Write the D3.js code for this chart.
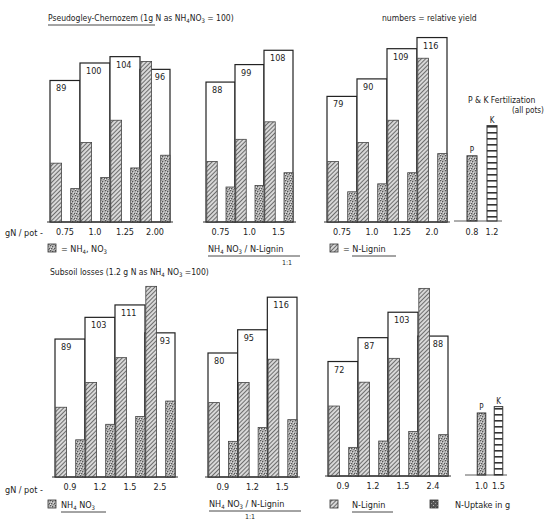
<!DOCTYPE html>
<html lang="en">
<head>
<meta charset="utf-8">
<title>Relative yield and N uptake</title>
<script src="https://d3js.org/d3.v7.min.js"></script>
<style>
    body { margin: 0; background: #fff; }
    svg text { font-family: "Liberation Sans Narrow", "DejaVu Sans Condensed", sans-serif; fill: #222; }
</style>
</head>
<body>
<div id="chart"></div>
<script>
    // ---- data ----
    // top row: Pseudogley-Chernozem
    var rates1 = ["0.75", "1.0", "1.25", "2.00"];
    var yield1 = [89, 100, 104, 96];
    var hatch1 = [37, 50, 64, 101];
    var stip1 = [21, 28, 34, 42];

    var rates2 = ["0.75", "1.0", "1.5"];
    var yield2 = [88, 99, 108];
    var hatch2 = [38, 52, 63];
    var stip2 = [22, 23, 31];

    var rates3 = ["0.75", "1.0", "1.25", "2.0"];
    var yield3 = [79, 90, 109, 116];
    var hatch3 = [38, 50, 64, 103];
    var stip3 = [19, 24, 31, 43];

    // bottom row: subsoil losses
    var rates4 = ["0.9", "1.2", "1.5", "2.5"];
    var yield4 = [89, 103, 111, 93];
    var hatch4 = [45, 61, 77, 123];
    var stip4 = [24, 34, 39, 49];

    var rates5 = ["0.9", "1.2", "1.5"];
    var yield5 = [80, 95, 116];
    var hatch5 = [48, 61, 76];
    var stip5 = [23, 32, 37];

    var rates6 = ["0.9", "1.2", "1.5", "2.4"];
    var yield6 = [72, 87, 103, 88];
    var hatch6 = [44, 59, 74, 118];
    var stip6 = [18, 22, 28, 26];

    // P & K fertilization (all pots)
    var pkNames = ["P", "K"];
    var pkRatesTop = ["0.8", "1.2"];
    var pkTop = [41, 60];
    var pkRatesBottom = ["1.0", "1.5"];
    var pkBottom = [39, 43];

    var svg = d3.select("#chart").append("svg")
        .attr("width", 559)
        .attr("height", 520);

    // patterns that imitate the print
    var defs = svg.append("defs");
    var ph = defs.append("pattern").attr("id", "hatch")
        .attr("patternUnits", "userSpaceOnUse").attr("width", 3).attr("height", 3)
        .attr("patternTransform", "rotate(45)");
    ph.append("rect").attr("width", 3).attr("height", 3).attr("fill", "#d8d8d8");
    ph.append("line").attr("x1", 0).attr("y1", 0).attr("x2", 0).attr("y2", 3)
        .attr("stroke", "#333").attr("stroke-width", 1.3);

    var ps = defs.append("pattern").attr("id", "stip")
        .attr("patternUnits", "userSpaceOnUse").attr("width", 5).attr("height", 5);
    ps.append("rect").attr("width", 5).attr("height", 5).attr("fill", "#b4b4b4");
    [[0, 0], [2, 1], [4, 3], [1, 3], [3, 4.5]].forEach(function (p) {
        ps.append("rect").attr("x", p[0]).attr("y", p[1]).attr("width", 1.2).attr("height", 1.2).attr("fill", "#555");
    });
    [[1, 1.5], [3, 2.5], [0, 4]].forEach(function (p) {
        ps.append("rect").attr("x", p[0]).attr("y", p[1]).attr("width", 1).attr("height", 1).attr("fill", "#eee");
    });

    var pl = defs.append("pattern").attr("id", "ladder")
        .attr("patternUnits", "userSpaceOnUse").attr("width", 10).attr("height", 6);
    pl.append("rect").attr("width", 10).attr("height", 6).attr("fill", "#fff");
    pl.append("rect").attr("x", 0).attr("y", 0).attr("width", 10).attr("height", 1.6).attr("fill", "#333");

    var pd = defs.append("pattern").attr("id", "dark")
        .attr("patternUnits", "userSpaceOnUse").attr("width", 4).attr("height", 4);
    pd.append("rect").attr("width", 4).attr("height", 4).attr("fill", "#555");
    pd.append("rect").attr("x", 1).attr("y", 1).attr("width", 1).attr("height", 1).attr("fill", "#bbb");
    pd.append("rect").attr("x", 3).attr("y", 3).attr("width", 1).attr("height", 1).attr("fill", "#999");

    function panel(rates, yields, hatch, stip, x0, x1, base, px100) {
        var x = d3.scaleBand().domain(rates).range([x0, x1]).padding(0);
        var y = d3.scaleLinear().domain([0, 100]).range([base, base - px100]);
        var bw = x.bandwidth();
        var g = svg.append("g");

        g.selectAll(".yield").data(rates).enter().append("rect")
            .attr("x", function (d) { return x(d); })
            .attr("y", function (d, i) { return y(yields[i]); })
            .attr("width", bw)
            .attr("height", function (d, i) { return base - y(yields[i]); })
            .attr("fill", "#fff").attr("stroke", "#222").attr("stroke-width", 1.2);

        g.selectAll(".hatch").data(rates).enter().append("rect")
            .attr("x", function (d) { return x(d) + 0.8; })
            .attr("y", function (d, i) { return y(hatch[i]); })
            .attr("width", bw * 0.36)
            .attr("height", function (d, i) { return base - y(hatch[i]); })
            .attr("fill", "url(#hatch)").attr("stroke", "#444").attr("stroke-width", 0.8);

        g.selectAll(".stip").data(rates).enter().append("rect")
            .attr("x", function (d) { return x(d) + bw * 0.69; })
            .attr("y", function (d, i) { return y(stip[i]); })
            .attr("width", bw * 0.31)
            .attr("height", function (d, i) { return base - y(stip[i]); })
            .attr("fill", "url(#stip)").attr("stroke", "#444").attr("stroke-width", 0.8);

        g.selectAll(".lab").data(rates).enter().append("text")
            .attr("x", function (d, i) {
                return hatch[i] > yields[i] - 12 ? x(d) + bw * 0.36 + 4 : x(d) + 6;
            })
            .attr("y", function (d, i) { return y(yields[i]) + 11; })
            .attr("font-size", 9)
            .text(function (d, i) { return yields[i]; });

        g.append("line")
            .attr("x1", x0 - 3).attr("x2", x1 + 3).attr("y1", base).attr("y2", base)
            .attr("stroke", "#333").attr("stroke-width", 1);

        var ax = g.append("g").attr("transform", "translate(0," + (base + 4) + ")")
            .call(d3.axisBottom(x).tickSize(0));
        ax.select(".domain").remove();
        ax.selectAll("text").attr("font-size", 9).attr("fill", "#222")
            .style("font-family", "'Liberation Sans Narrow', 'DejaVu Sans Condensed', sans-serif");
    }

    function pkPanel(rates, vals, x0, x1, base, px100) {
        var x = d3.scaleBand().domain(pkNames).range([x0, x1]).paddingInner(0.5).paddingOuter(0.25);
        var y = d3.scaleLinear().domain([0, 100]).range([base, base - px100]);
        var g = svg.append("g");
        g.selectAll("rect").data(pkNames).enter().append("rect")
            .attr("x", function (d) { return x(d); })
            .attr("y", function (d, i) { return y(vals[i]); })
            .attr("width", x.bandwidth())
            .attr("height", function (d, i) { return base - y(vals[i]); })
            .attr("fill", function (d) { return d === "K" ? "url(#ladder)" : "url(#stip)"; })
            .attr("stroke", "#333").attr("stroke-width", 1);
        g.selectAll(".nm").data(pkNames).enter().append("text")
            .attr("x", function (d) { return x(d) + x.bandwidth() / 2; })
            .attr("y", function (d, i) { return y(vals[i]) - 3; })
            .attr("text-anchor", "middle").attr("font-size", 8)
            .text(function (d) { return d; });
        g.append("line")
            .attr("x1", x0 - 8).attr("x2", x1).attr("y1", base).attr("y2", base)
            .attr("stroke", "#333").attr("stroke-width", 0.8);
        g.selectAll(".rt").data(pkNames).enter().append("text")
            .attr("x", function (d) { return x(d) + x.bandwidth() / 2; })
            .attr("y", base + 14)
            .attr("text-anchor", "middle").attr("font-size", 9)
            .text(function (d, i) { return rates[i]; });
    }

    panel(rates1, yield1, hatch1, stip1, 50, 170, 222, 159);
    panel(rates2, yield2, hatch2, stip2, 206, 293, 222, 159);
    panel(rates3, yield3, hatch3, stip3, 327, 447, 222, 159);
    panel(rates4, yield4, hatch4, stip4, 55, 175, 477, 155);
    panel(rates5, yield5, hatch5, stip5, 208, 297, 477, 155);
    panel(rates6, yield6, hatch6, stip6, 328, 448, 476, 159);
    pkPanel(pkRatesTop, pkTop, 462, 502, 221, 159);
    pkPanel(pkRatesBottom, pkBottom, 473, 507, 475, 159);

    // ---- titles and legends ----
    function txt(x, y, s, size, anchor) {
        return svg.append("text").attr("x", x).attr("y", y)
            .attr("font-size", size || 8.5)
            .attr("text-anchor", anchor || "start")
            .text(s);
    }
    function uline(xa, xb, yy) {
        svg.append("line").attr("x1", xa).attr("x2", xb).attr("y1", yy).attr("y2", yy)
            .attr("stroke", "#333").attr("stroke-width", 0.9);
    }
    function swatch(x, y, fill) {
        svg.append("rect").attr("x", x).attr("y", y).attr("width", 8).attr("height", 8)
            .attr("fill", fill).attr("stroke", "#333").attr("stroke-width", 0.8);
    }

    var t1 = txt(48, 21, "", 8.5);
    t1.append("tspan").text("Pseudogley-Chernozem (1g N as NH");
    t1.append("tspan").attr("font-size", 6).attr("dy", 2).text("4");
    t1.append("tspan").attr("dy", -2).text("NO");
    t1.append("tspan").attr("font-size", 6).attr("dy", 2).text("3");
    t1.append("tspan").attr("dy", -2).text(" = 100)");
    uline(48, 155, 25);

    txt(382, 21, "numbers = relative yield", 8.5);
    txt(468, 103, "P & K  Fertilization", 8.5);
    txt(512, 113, "(all pots)", 8);

    txt(5, 236, "gN / pot -", 9);
    txt(5, 493, "gN / pot -", 9);

    // top legends
    swatch(48, 244, "url(#stip)");
    var l1 = txt(61, 252, "= NH", 9);
    l1.append("tspan").attr("font-size", 6).attr("dy", 2).text("4");
    l1.append("tspan").attr("dy", -2).text(", NO");
    l1.append("tspan").attr("font-size", 6).attr("dy", 2).text("3");

    var l2 = txt(208, 252, "NH", 9);
    l2.append("tspan").attr("font-size", 6).attr("dy", 2).text("4");
    l2.append("tspan").attr("dy", -2).text(" NO");
    l2.append("tspan").attr("font-size", 6).attr("dy", 2).text("3");
    l2.append("tspan").attr("dy", -2).text(" / N-Lignin");
    uline(208, 300, 256);
    txt(287, 265, "1:1", 7, "middle");

    swatch(330, 244, "url(#hatch)");
    txt(343, 252, "= N-Lignin", 9);
    uline(352, 396, 256);

    // bottom title and legends
    var t2 = txt(50, 275, "Subsoil losses (1.2 g N as NH", 8.5);
    t2.append("tspan").attr("font-size", 6).attr("dy", 2).text("4");
    t2.append("tspan").attr("dy", -2).text(" NO");
    t2.append("tspan").attr("font-size", 6).attr("dy", 2).text("3");
    t2.append("tspan").attr("dy", -2).text(" =100)");

    swatch(48, 500, "url(#stip)");
    var l4 = txt(61, 508, "NH", 9);
    l4.append("tspan").attr("font-size", 6).attr("dy", 2).text("4");
    l4.append("tspan").attr("dy", -2).text(" NO");
    l4.append("tspan").attr("font-size", 6).attr("dy", 2).text("3");
    uline(61, 106, 512);

    var l5 = txt(209, 507, "NH", 9);
    l5.append("tspan").attr("font-size", 6).attr("dy", 2).text("4");
    l5.append("tspan").attr("dy", -2).text(" NO");
    l5.append("tspan").attr("font-size", 6).attr("dy", 2).text("3");
    l5.append("tspan").attr("dy", -2).text(" / N-Lignin");
    uline(209, 301, 511);
    txt(250, 519, "1:1", 7, "middle");

    swatch(330, 500, "url(#hatch)");
    txt(352, 508, "N-Lignin", 9);
    uline(352, 393, 512);
    swatch(430, 500, "url(#dark)");
    txt(455, 508, "N-Uptake in g", 9);
</script>
</body>
</html>
